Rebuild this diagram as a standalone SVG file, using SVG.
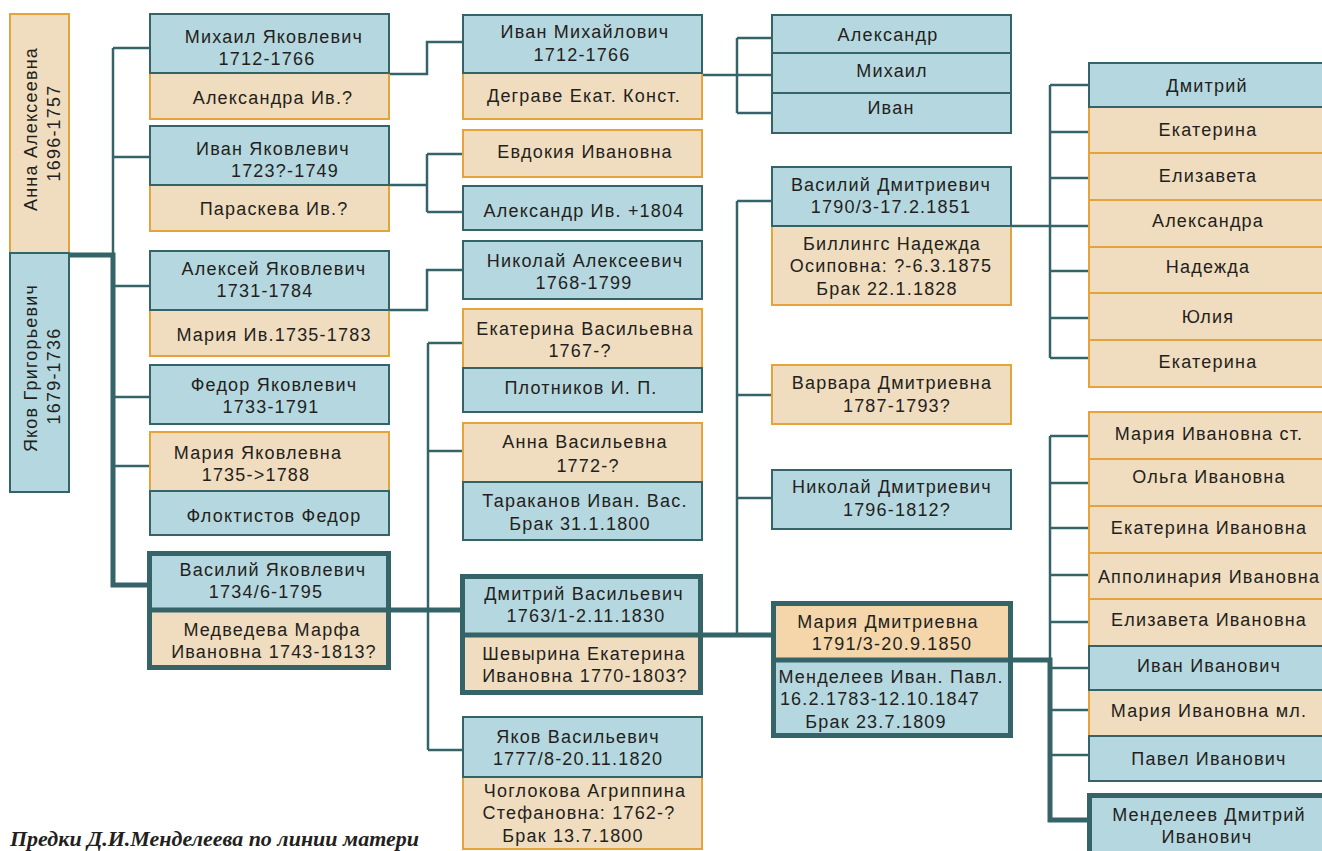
<svg xmlns="http://www.w3.org/2000/svg" width="1322" height="851" viewBox="0 0 1322 851">
<style>
.b{fill:#b5d7df;stroke:#356468;stroke-width:2}
.o{fill:#f0dcbe;stroke:#e5a33c;stroke-width:2}
.bf{fill:#b5d7df}
.of{fill:#f0dcbe}
.mf{fill:#f4d6aa}
.tk{fill:none;stroke:#356468;stroke-width:5}
.t{font-family:"Liberation Sans",Arial,sans-serif;font-size:18px;fill:#231f20;text-anchor:middle;letter-spacing:1.2px}
.c{fill:none;stroke:#356468;stroke-width:2.5}
.ck{fill:none;stroke:#356468;stroke-width:5}
.cap{font-family:"Liberation Serif","Times New Roman",serif;font-size:22px;font-weight:bold;font-style:italic;fill:#231f20}
</style>
<rect width="1322" height="851" fill="#ffffff"/>
<g id="connectors">
<path class="c" d="M113 48V255M113 48H150M113 157H150M113 286H150M113 397H150M113 466H150"/>
<path class="ck" d="M69 255H113V585H148"/>
<path class="c" d="M389 74H427V42H463"/>
<path class="c" d="M389 185H427M427 154V212M427 154H463M427 212H463"/>
<path class="c" d="M389 310H427V270H463"/>
<path class="c" d="M428 343V750M428 343H463M428 451H463M428 750H463"/>
<path class="ck" d="M391 610H461"/>
<path class="c" d="M703 75H737M737 38V113M737 38H772M737 75H772M737 113H772"/>
<path class="c" d="M737 201V635M737 201H772M737 395H772M737 498H772"/>
<path class="ck" d="M703 635H772"/>
<path class="c" d="M1011 226H1050M1050 85V358M1050 85H1089M1050 132H1089M1050 178H1089M1050 226H1089M1050 271H1089M1050 318H1089M1050 358H1089"/>
<path class="c" d="M1050 436V660M1050 436H1089M1050 483H1089M1050 528H1089M1050 575H1089M1050 622H1089M1050 668H1089M1050 710H1089M1050 755H1089"/>
<path class="ck" d="M1013 660H1050V820H1089"/>
</g>
<g id="n-anna">
<rect class="o" x="10" y="14" width="59" height="239"/>
<text class="t" transform="rotate(-90 37 129)" x="37" y="129">Анна Алексеевна</text>
<text class="t" transform="rotate(-90 60 133)" x="60" y="133">1696-1757</text>
</g>
<g id="n-yakov">
<rect class="b" x="10" y="253" width="59" height="239"/>
<text class="t" transform="rotate(-90 37 368)" x="37" y="368">Яков Григорьевич</text>
<text class="t" transform="rotate(-90 60 376)" x="60" y="376">1679-1736</text>
</g>
<g id="n-mikhail-ya">
<rect class="o" x="150" y="73" width="239" height="46"/>
<rect class="b" x="150" y="14" width="239" height="59"/>
<text class="t" x="274" y="43">Михаил Яковлевич</text>
<text class="t" x="267" y="65">1712-1766</text>
<text class="t" x="273" y="104">Александра Ив.?</text>
</g>
<g id="n-ivan-ya">
<rect class="o" x="150" y="185" width="239" height="46"/>
<rect class="b" x="150" y="126" width="239" height="59"/>
<text class="t" x="273" y="155">Иван Яковлевич</text>
<text class="t" x="285" y="177">1723?-1749</text>
<text class="t" x="274" y="215">Параскева Ив.?</text>
</g>
<g id="n-aleksey-ya">
<rect class="o" x="150" y="310" width="239" height="46"/>
<rect class="b" x="150" y="251" width="239" height="59"/>
<text class="t" x="274" y="275">Алексей Яковлевич</text>
<text class="t" x="265" y="297">1731-1784</text>
<text class="t" x="274" y="341">Мария Ив.1735-1783</text>
</g>
<g id="n-fedor-ya">
<rect class="b" x="150" y="365" width="239" height="59"/>
<text class="t" x="274" y="391">Федор Яковлевич</text>
<text class="t" x="271" y="413">1733-1791</text>
</g>
<g id="n-maria-ya">
<rect class="o" x="150" y="432" width="239" height="59"/>
<rect class="b" x="150" y="491" width="239" height="44"/>
<text class="t" x="258" y="459">Мария Яковлевна</text>
<text class="t" x="256" y="481">1735-&gt;1788</text>
<text class="t" x="274" y="522">Флоктистов Федор</text>
</g>
<g id="n-vasiliy-ya">
<rect class="of" x="149.5" y="553.5" width="239" height="114"/>
<rect class="bf" x="149.5" y="553.5" width="239" height="56.5"/>
<path class="tk" d="M149.5 610H388.5"/>
<rect class="tk" x="149.5" y="553.5" width="239" height="114"/>
<text class="t" x="273" y="576">Василий Яковлевич</text>
<text class="t" x="266" y="598">1734/6-1795</text>
<text class="t" x="272" y="636">Медведева Марфа</text>
<text class="t" x="274" y="658">Ивановна 1743-1813?</text>
</g>
<g id="n-ivan-mikh">
<rect class="o" x="463" y="73" width="239" height="46"/>
<rect class="b" x="463" y="15" width="239" height="58"/>
<text class="t" x="585" y="38">Иван Михайлович</text>
<text class="t" x="582" y="61">1712-1766</text>
<text class="t" x="584" y="102">Деграве Екат. Конст.</text>
</g>
<g id="n-evdokiya">
<rect class="o" x="463" y="130" width="239" height="47"/>
<text class="t" x="585" y="158">Евдокия Ивановна</text>
</g>
<g id="n-aleksandr-iv">
<rect class="b" x="463" y="186" width="239" height="44"/>
<text class="t" x="584" y="217">Александр Ив. +1804</text>
</g>
<g id="n-nikolay-al">
<rect class="b" x="463" y="241" width="239" height="58"/>
<text class="t" x="585" y="267">Николай Алексеевич</text>
<text class="t" x="584" y="289">1768-1799</text>
</g>
<g id="n-ekaterina-vas">
<rect class="o" x="463" y="309" width="239" height="59"/>
<rect class="b" x="463" y="368" width="239" height="44"/>
<text class="t" x="585" y="335">Екатерина Васильевна</text>
<text class="t" x="580" y="357">1767-?</text>
<text class="t" x="581" y="394">Плотников И. П.</text>
</g>
<g id="n-anna-vas">
<rect class="o" x="463" y="423" width="239" height="59"/>
<rect class="b" x="463" y="482" width="239" height="58"/>
<text class="t" x="585" y="448">Анна Васильевна</text>
<text class="t" x="588" y="472">1772-?</text>
<text class="t" x="585" y="507">Тараканов Иван. Вас.</text>
<text class="t" x="580" y="530">Брак 31.1.1800</text>
</g>
<g id="n-dmitriy-vas">
<rect class="of" x="462.5" y="576.5" width="238" height="116"/>
<rect class="bf" x="462.5" y="576.5" width="238" height="58.5"/>
<path class="tk" d="M462.5 635H700.5"/>
<rect class="tk" x="462.5" y="576.5" width="238" height="116"/>
<text class="t" x="584" y="600">Дмитрий Васильевич</text>
<text class="t" x="586" y="622">1763/1-2.11.1830</text>
<text class="t" x="584" y="660">Шевырина Екатерина</text>
<text class="t" x="585" y="682">Ивановна 1770-1803?</text>
</g>
<g id="n-yakov-vas">
<rect class="o" x="463" y="777" width="239" height="72"/>
<rect class="b" x="463" y="717" width="239" height="60"/>
<text class="t" x="578" y="743">Яков Васильевич</text>
<text class="t" x="578" y="765">1777/8-20.11.1820</text>
<text class="t" x="585" y="797">Чоглокова Агриппина</text>
<text class="t" x="579" y="819">Стефановна: 1762-?</text>
<text class="t" x="573" y="842">Брак 13.7.1800</text>
</g>
<g id="n-ivan-mikh-children">
<rect class="b" x="772" y="15" width="239" height="38"/>
<rect class="b" x="772" y="53" width="239" height="40"/>
<rect class="b" x="772" y="93" width="239" height="40"/>
<text class="t" x="888" y="41">Александр</text>
<text class="t" x="892" y="77">Михаил</text>
<text class="t" x="891" y="114">Иван</text>
</g>
<g id="n-vasiliy-dm">
<rect class="o" x="772" y="226" width="239" height="79"/>
<rect class="b" x="772" y="167" width="239" height="59"/>
<text class="t" x="891" y="191">Василий Дмитриевич</text>
<text class="t" x="891" y="213">1790/3-17.2.1851</text>
<text class="t" x="892" y="250">Биллингс Надежда</text>
<text class="t" x="891" y="272">Осиповна: ?-6.3.1875</text>
<text class="t" x="887" y="295">Брак 22.1.1828</text>
</g>
<g id="n-varvara-dm">
<rect class="o" x="772" y="365" width="239" height="59"/>
<text class="t" x="892" y="389">Варвара Дмитриевна</text>
<text class="t" x="897" y="412">1787-1793?</text>
</g>
<g id="n-nikolay-dm">
<rect class="b" x="772" y="470" width="239" height="59"/>
<text class="t" x="892" y="493">Николай Дмитриевич</text>
<text class="t" x="897" y="516">1796-1812?</text>
</g>
<g id="n-mariya-dm">
<rect class="bf" x="773.5" y="603.5" width="237" height="132"/>
<rect class="mf" x="773.5" y="603.5" width="237" height="56.5"/>
<path class="tk" d="M773.5 660H1010.5"/>
<rect class="tk" x="773.5" y="603.5" width="237" height="132"/>
<text class="t" x="888" y="628">Мария Дмитриевна</text>
<text class="t" x="892" y="650">1791/3-20.9.1850</text>
<text class="t" x="891" y="683">Менделеев Иван. Павл.</text>
<text class="t" x="880" y="705">16.2.1783-12.10.1847</text>
<text class="t" x="876" y="728">Брак 23.7.1809</text>
</g>
<g id="n-vasiliy-dm-children">
<rect class="o" x="1089" y="107" width="240" height="46"/>
<rect class="o" x="1089" y="153" width="240" height="47"/>
<rect class="o" x="1089" y="200" width="240" height="47"/>
<rect class="o" x="1089" y="247" width="240" height="46"/>
<rect class="o" x="1089" y="293" width="240" height="47"/>
<rect class="o" x="1089" y="340" width="240" height="47"/>
<rect class="b" x="1089" y="63" width="240" height="44"/>
<text class="t" x="1207" y="92">Дмитрий</text>
<text class="t" x="1208" y="136">Екатерина</text>
<text class="t" x="1208" y="182">Елизавета</text>
<text class="t" x="1208" y="227">Александра</text>
<text class="t" x="1208" y="273">Надежда</text>
<text class="t" x="1208" y="323">Юлия</text>
<text class="t" x="1208" y="368">Екатерина</text>
</g>
<g id="n-mariya-dm-children">
<rect class="o" x="1089" y="412" width="240" height="47"/>
<rect class="o" x="1089" y="459" width="240" height="47"/>
<rect class="o" x="1089" y="506" width="240" height="47"/>
<rect class="o" x="1089" y="553" width="240" height="46"/>
<rect class="o" x="1089" y="599" width="240" height="47"/>
<rect class="o" x="1089" y="690" width="240" height="46"/>
<rect class="b" x="1089" y="646" width="240" height="44"/>
<rect class="b" x="1089" y="736" width="240" height="45"/>
<text class="t" x="1209" y="440">Мария Ивановна ст.</text>
<text class="t" x="1209" y="483">Ольга Ивановна</text>
<text class="t" x="1209" y="534">Екатерина Ивановна</text>
<text class="t" x="1209" y="583">Апполинария Ивановна</text>
<text class="t" x="1209" y="626">Елизавета Ивановна</text>
<text class="t" x="1209" y="672">Иван Иванович</text>
<text class="t" x="1209" y="717">Мария Ивановна мл.</text>
<text class="t" x="1209" y="765">Павел Иванович</text>
</g>
<g id="n-mendeleev-dm">
<rect class="bf" x="1089.5" y="795.5" width="240" height="70"/>
<rect class="tk" x="1089.5" y="795.5" width="240" height="70"/>
<text class="t" x="1209" y="821">Менделеев Дмитрий</text>
<text class="t" x="1207" y="843">Иванович</text>
</g>
<text class="cap" x="10" y="846">Предки Д.И.Менделеева по линии матери</text>
</svg>
